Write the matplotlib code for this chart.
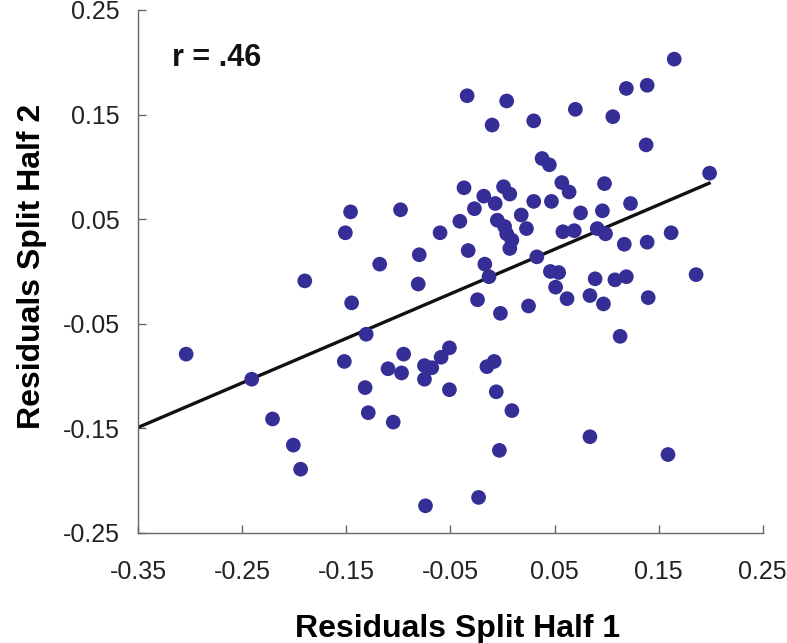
import matplotlib
matplotlib.use("Agg")
import matplotlib.pyplot as plt

plt.rcParams['font.family'] = ['Liberation Sans', 'DejaVu Sans']

# Residuals, split half 1 (x) and split half 2 (y)
resid_half1 = [
    -0.146, -0.151, -0.098, -0.060, -0.080, -0.118, -0.037, -0.041, -0.034, 0.004,
    -0.010, 0.030, 0.070, 0.106, 0.119, 0.139, 0.165, 0.138, 0.199, 0.038,
    0.045, 0.057, 0.064, 0.098, 0.123, 0.001, 0.007, -0.018, -0.007, -0.027,
    0.030, 0.047, 0.018, 0.075, 0.096, -0.005, 0.002, 0.004, 0.009, 0.007,
    0.023, 0.058, 0.069, 0.091, 0.099, 0.117, 0.139, 0.162, -0.033, 0.033,
    -0.017, -0.013, 0.046, 0.054, 0.186, -0.190, -0.081, -0.145, -0.131, -0.304,
    -0.241, -0.152, -0.095, -0.110, -0.097, -0.075, -0.068, -0.059, -0.051, -0.075,
    -0.051, -0.132, -0.129, -0.105, -0.221, -0.201, -0.194, -0.074, -0.024, -0.002,
    0.025, 0.051, 0.062, 0.089, 0.108, 0.119, 0.084, 0.097, 0.140, 0.113,
    -0.015, -0.008, -0.006, 0.009, 0.084, -0.003, 0.159, -0.023,
]
resid_half2 = [
    0.057, 0.037, 0.059, 0.037, 0.016, 0.007, 0.080, 0.048, 0.168, 0.163,
    0.140, 0.144, 0.155, 0.148, 0.175, 0.178, 0.203, 0.121, 0.094, 0.108,
    0.102, 0.085, 0.076, 0.084, 0.065, 0.081, 0.074, 0.072, 0.065, 0.060,
    0.067, 0.067, 0.054, 0.056, 0.058, 0.049, 0.043, 0.036, 0.030, 0.022,
    0.041, 0.038, 0.039, 0.041, 0.036, 0.026, 0.028, 0.037, 0.020, 0.014,
    0.007, -0.005, 0.000, -0.001, -0.003, -0.009, -0.012, -0.030, -0.060, -0.079,
    -0.103, -0.086, -0.079, -0.093, -0.097, -0.090, -0.092, -0.082, -0.073, -0.103,
    -0.113, -0.111, -0.135, -0.144, -0.141, -0.166, -0.189, -0.224, -0.027, -0.040,
    -0.033, -0.015, -0.026, -0.007, -0.008, -0.005, -0.023, -0.031, -0.025, -0.062,
    -0.091, -0.086, -0.115, -0.133, -0.158, -0.171, -0.175, -0.216,
]

# Regression line end points
fit_x = [-0.35, 0.20]
fit_y = [-0.149, 0.085]

x_ticks = [-0.35, -0.25, -0.15, -0.05, 0.05, 0.15, 0.25]
y_ticks = [-0.25, -0.15, -0.05, 0.05, 0.15, 0.25]
x_tick_labels = ["-0.35", "-0.25", "-0.15", "-0.05", "0.05", "0.15", "0.25"]
y_tick_labels = ["-0.25", "-0.15", "-0.05", "0.05", "0.15", "0.25"]

fig = plt.figure(figsize=(7.87, 6.43), dpi=100)
ax = fig.add_axes([0.1757, 0.1711, 0.7934, 0.8134])

ax.scatter(resid_half1, resid_half2, s=112, color='#352e96', edgecolors='none', zorder=3)
ax.plot(fit_x, fit_y, color='#111111', linewidth=2.4, zorder=2, solid_capstyle='butt')

ax.set_xlim(-0.35, 0.25)
ax.set_ylim(-0.25, 0.25)
ax.set_xticks(x_ticks)
ax.set_xticklabels(x_tick_labels)
ax.set_yticks(y_ticks)
ax.set_yticklabels(y_tick_labels)

for side in ['top', 'right']:
    ax.spines[side].set_visible(False)
for side in ['left', 'bottom']:
    ax.spines[side].set_color('#666666')
    ax.spines[side].set_linewidth(1.0)

ax.tick_params(axis='both', direction='in', length=5.5, width=1.0, color='#666666',
               labelsize=18, labelcolor='#222222')
ax.tick_params(axis='x', pad=19.5)
ax.tick_params(axis='y', pad=13.5)

ax.set_xlabel("Residuals Split Half 1", fontsize=23, fontweight='bold', va='baseline')
ax.xaxis.set_label_coords(0.512, -0.199)
ax.set_ylabel("Residuals Split Half 2", fontsize=23, fontweight='bold', va='baseline')
ax.yaxis.set_label_coords(-0.157, 0.509)

ax.text(0.0535, 0.893, "r = .46", transform=ax.transAxes, fontsize=22,
        fontweight='bold', ha='left', va='baseline', color='#111111')

fig.savefig("out.png", dpi=100)
